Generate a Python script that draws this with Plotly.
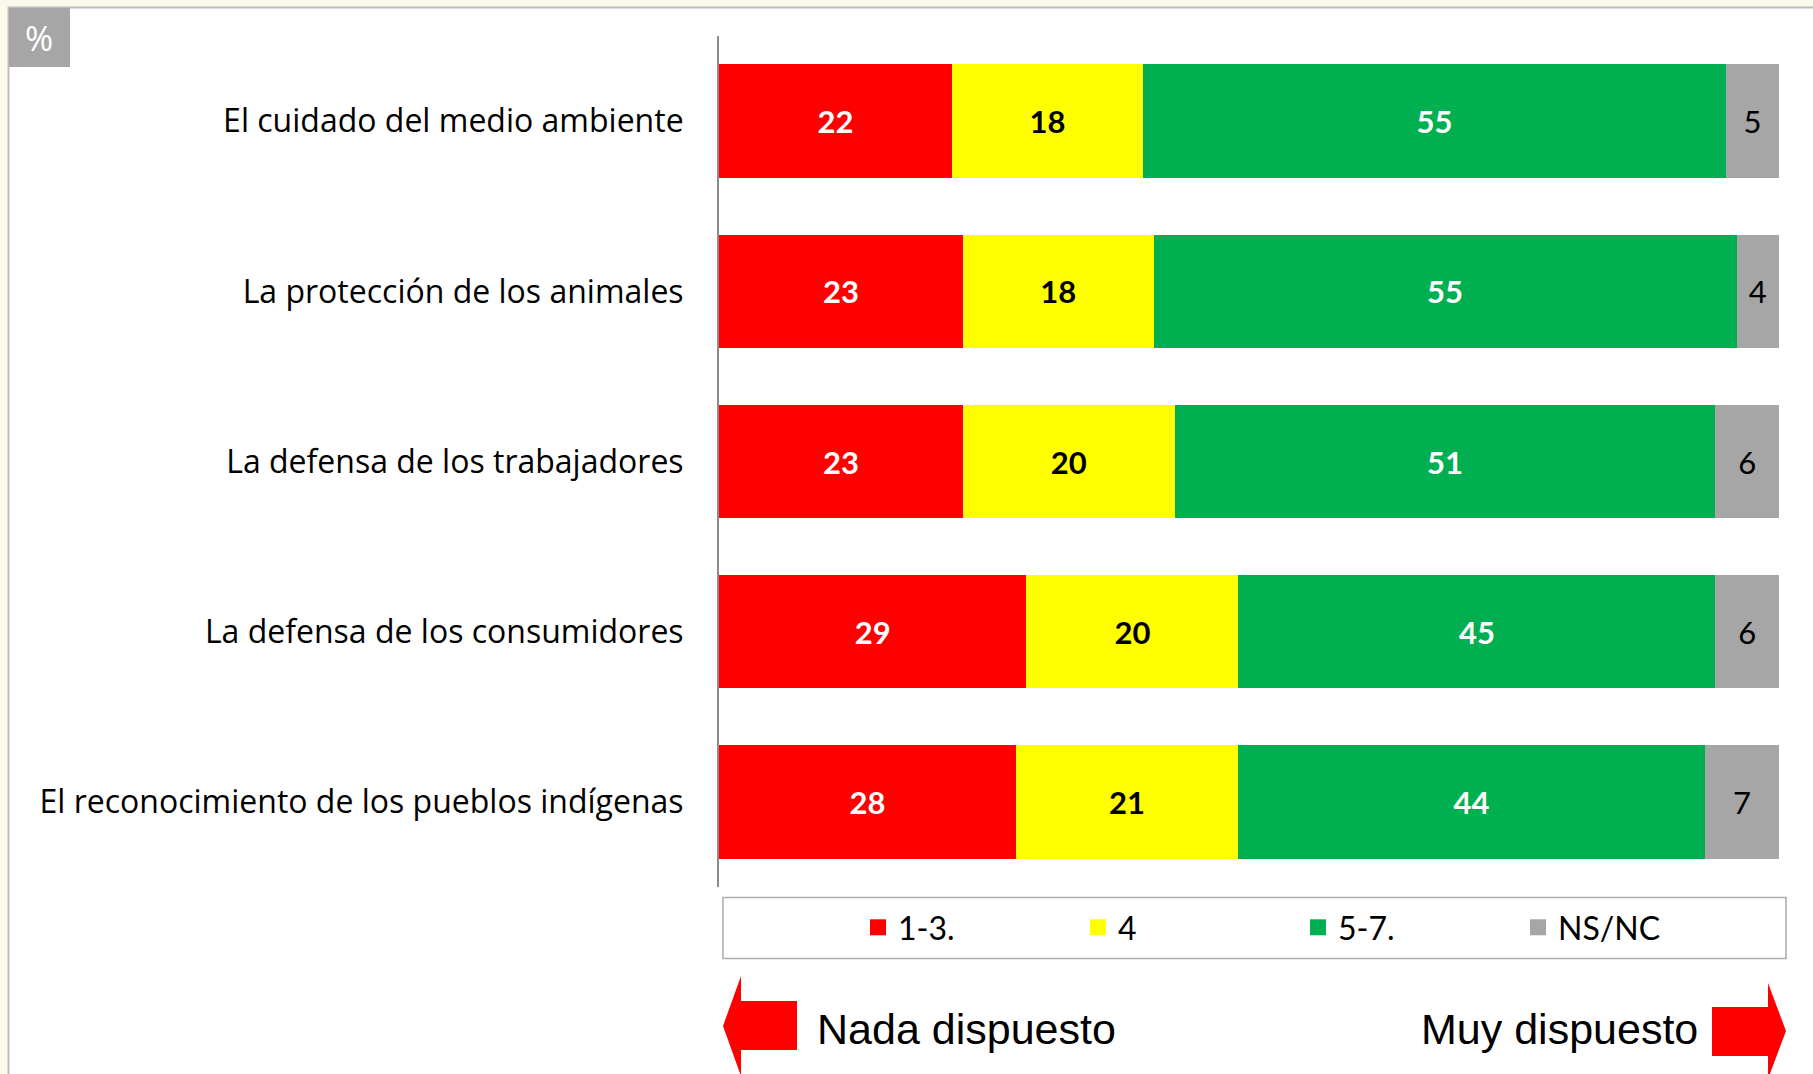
import plotly.graph_objects as go

# ---------------- data ----------------
categories = [
    "El cuidado del medio ambiente",
    "La protección de los animales",
    "La defensa de los trabajadores",
    "La defensa de los consumidores",
    "El reconocimiento de los pueblos indígenas",
]
series_names = ["1-3.", "4", "5-7.", "NS/NC"]
vals_low = [22, 23, 23, 29, 28]
vals_mid = [18, 18, 20, 20, 21]
vals_high = [55, 55, 51, 45, 44]
vals_nsnc = [5, 4, 6, 6, 7]

# ---------------- styles ----------------
W, H = 1813, 1074
ML, MR, MT, MB = 719, 34, 36, 187
PW, PH = W - ML - MR, H - MT - MB

def px(x):
    return (x - ML) / PW

def py(y):
    return (H - MB - y) / PH

colors = ["#FF0000", "#FFFF00", "#00B050", "#A6A6A6"]
txt_colors = ["white", "black", "white", "black"]
txt_weights = ["bold", "bold", "bold", "normal"]
series_vals = [vals_low, vals_mid, vals_high, vals_nsnc]

fig = go.Figure()
for name, vals, col, tcol, tw in zip(series_names, series_vals, colors, txt_colors, txt_weights):
    fig.add_trace(go.Bar(
        y=categories, x=vals, name=name, orientation="h",
        marker=dict(color=col, line=dict(width=0)),
        text=[str(v) for v in vals], textposition="inside",
        insidetextanchor="middle", textangle=0, constraintext="none",
        insidetextfont=dict(family="Lato", size=31, color=tcol, weight=tw),
        hoverinfo="skip", showlegend=False, legendgroup=name,
    ))
# legend entries (square swatches)
for name, col in zip(series_names, colors):
    fig.add_trace(go.Scatter(
        x=[None], y=[None], mode="markers", name=name, legendgroup=name,
        marker=dict(symbol="square", size=21, color=col), showlegend=True,
    ))

fig.update_layout(
    width=W, height=H,
    margin=dict(l=ML, r=MR, t=MT, b=MB),
    barmode="stack", bargap=0.333,
    paper_bgcolor="white", plot_bgcolor="white",
    showlegend=True,
    legend=dict(
        orientation="h", x=px(858), y=py(927.5), xanchor="left", yanchor="middle",
        font=dict(family="Lato", size=32, color="black"),
        bgcolor="rgba(0,0,0,0)", borderwidth=0,
        entrywidth=175, entrywidthmode="pixels", traceorder="normal",
    ),
    xaxis=dict(range=[0, 100], showgrid=False, zeroline=False, showticklabels=False,
               showline=False, fixedrange=True),
    yaxis=dict(autorange="reversed", showgrid=False, zeroline=False,
               showline=True, linecolor="#8C8C8C", linewidth=2, ticks="",
               ticklabelstandoff=27,
               tickfont=dict(family="Open Sans", size=32, color="black")),
)

shapes = []
# page frame (cream strips + border lines)
cream = "#FBF8EC"
shapes.append(dict(type="rect", xref="paper", yref="paper", x0=px(0), x1=px(W), y0=py(0), y1=py(7),
                   fillcolor=cream, line=dict(width=0), layer="above"))
shapes.append(dict(type="rect", xref="paper", yref="paper", x0=px(0), x1=px(8), y0=py(0), y1=py(H),
                   fillcolor=cream, line=dict(width=0), layer="above"))
shapes.append(dict(type="line", xref="paper", yref="paper", x0=px(8), x1=px(W), y0=py(7.5), y1=py(7.5),
                   line=dict(color="#BDBDBD", width=2), layer="above"))
shapes.append(dict(type="line", xref="paper", yref="paper", x0=px(8.5), x1=px(8.5), y0=py(7), y1=py(H),
                   line=dict(color="#BDBDBD", width=2), layer="above"))
# % box
shapes.append(dict(type="rect", xref="paper", yref="paper", x0=px(9), x1=px(70), y0=py(8), y1=py(67),
                   fillcolor="#A6A6A6", line=dict(width=0), layer="above"))
# legend frame
shapes.append(dict(type="rect", xref="paper", yref="paper", x0=px(723), x1=px(1786), y0=py(897.5), y1=py(958.5),
                   fillcolor="rgba(0,0,0,0)", line=dict(color="#ABABAB", width=1.5), layer="below"))

def path(points):
    return "M " + " L ".join(f"{px(x)},{py(y)}" for x, y in points) + " Z"

left_arrow = [(723, 1026), (741, 976), (741, 1001), (797, 1001), (797, 1050), (741, 1050), (741, 1076)]
right_arrow = [(1712, 1007), (1768, 1007), (1768, 983), (1786, 1031), (1768, 1079), (1768, 1056), (1712, 1056)]
for pts in (left_arrow, right_arrow):
    shapes.append(dict(type="path", xref="paper", yref="paper", path=path(pts),
                       fillcolor="#FF0000", line=dict(width=0), layer="above"))
fig.update_layout(shapes=shapes)

annotations = [
    dict(text="%", x=px(39), y=py(38), xref="paper", yref="paper", showarrow=False,
         xanchor="center", yanchor="middle", font=dict(family="Open Sans", size=34, color="white")),
    dict(text="Nada dispuesto", x=px(815), y=py(1029), xref="paper", yref="paper", showarrow=False,
         xanchor="left", yanchor="middle", font=dict(family="Liberation Sans", size=43, color="black")),
    dict(text="Muy dispuesto", x=px(1700), y=py(1029), xref="paper", yref="paper", showarrow=False,
         xanchor="right", yanchor="middle", font=dict(family="Liberation Sans", size=43, color="black")),
]
fig.update_layout(annotations=annotations)

fig.write_html("out.html", config={"displayModeBar": False},
               post_script="document.body.style.margin='0';document.body.style.padding='0';")
